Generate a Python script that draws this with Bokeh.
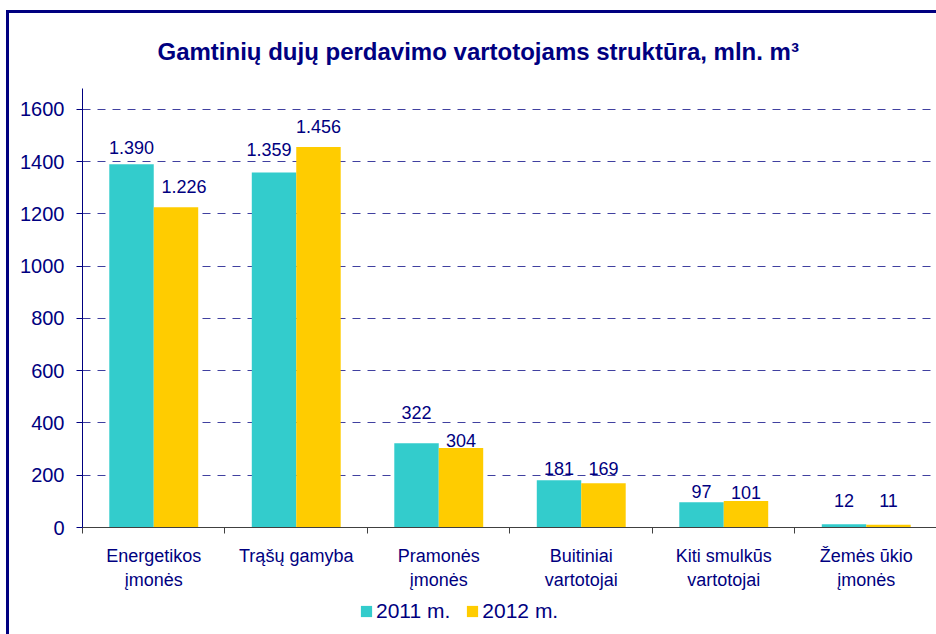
import numpy as np
from bokeh.plotting import figure
from bokeh.layouts import column
from bokeh.models import (ColumnDataSource, Range1d, FixedTicker, Legend, LegendItem)
from bokeh.core.properties import value
from bokeh.embed import file_html
from bokeh.resources import INLINE

# ---- data ----
categories = ["Energetikos\nįmonės", "Trąšų gamyba", "Pramonės\nįmonės",
              "Buitiniai\nvartotojai", "Kiti smulkūs\nvartotojai", "Žemės ūkio\nįmonės"]
values_2011 = [1390, 1359, 322, 181, 97, 12]
values_2012 = [1226, 1456, 304, 169, 101, 11]
series_names = ["2011 m.", "2012 m."]
y_ticks = [0, 200, 400, 600, 800, 1000, 1200, 1400, 1600]
title_text = "Gamtinių dujų perdavimo vartotojams struktūra, mln. m³"

# ---- styling ----
NAVY = "#000080"
TEAL = "#33CCCC"
YELLOW = "#FFCC00"
FONT = "Liberation Sans"
BAR_W = 0.312
# label nudges (screen px above the bar top) to mimic the original label placement
dy_2011 = [10, 16, 24, 5, 4, 17]
dy_2012 = [14, 14, 1, 8, 2, 17]
dx_2011 = [0, -5, 0, 0, 0, 0]
dx_2012 = [8, 0, 0, 0, 0, 0]
BASELINE_FIX = 7
BORDER_CSS = {"background": "linear-gradient(#000080,#000080) 6px 10px / 3px 700px no-repeat, "
                            "linear-gradient(#000080,#000080) 6px 10px / 940px 3px no-repeat, white"}
BORDER_CSS_LOW = {"background": "linear-gradient(#000080,#000080) 6px 0px / 3px 100px no-repeat, white"}


def fmt(v):
    return f"{v:,}".replace(",", ".")


n = len(categories)
centers = np.arange(n) + 0.5

src11 = ColumnDataSource(dict(x=centers - BAR_W / 2, top=values_2011,
                              lab=[fmt(v) for v in values_2011],
                              dy=[-(d + BASELINE_FIX) for d in dy_2011], dx=dx_2011))
src12 = ColumnDataSource(dict(x=centers + BAR_W / 2, top=values_2012,
                              lab=[fmt(v) for v in values_2012],
                              dy=[-(d + BASELINE_FIX) for d in dy_2012], dx=dx_2012))

p = figure(width=936, height=600, output_backend="svg", toolbar_location=None,
           x_range=Range1d(0, 5.993), y_range=Range1d(0, 1680),
           min_border_left=82, min_border_top=88, min_border_bottom=73,
           min_border_right=0)

p.title.text = title_text
p.title.text_font = FONT
p.title.text_font_size = "24px"
p.title.text_font_style = "bold"
p.title.text_color = NAVY
p.title.align = "left"
p.title.offset = 75
p.title.standoff = 48

p.outline_line_color = None
p.background_fill_color = "white"
p.border_fill_alpha = 0
p.styles = BORDER_CSS

r11 = p.vbar(x="x", top="top", width=BAR_W, source=src11, fill_color=TEAL, line_color=None)
r12 = p.vbar(x="x", top="top", width=BAR_W, source=src12, fill_color=YELLOW, line_color=None)

for src in (src11, src12):
    p.text(x="x", y="top", text="lab", source=src, x_offset="dx", y_offset="dy",
           text_align="center", text_baseline="alphabetic",
           text_font=value(FONT), text_font_size="18px", text_color=NAVY)

# x axis: labels at category centers, tick marks at boundaries (minor ticks)
xa = p.xaxis[0]
xa.ticker = FixedTicker(ticks=list(centers), minor_ticks=list(range(n + 1)))
xa.major_label_overrides = {float(c): lab for c, lab in zip(centers, categories)}
xa.major_tick_out = 0
xa.major_tick_in = 0
xa.minor_tick_out = 6
xa.minor_tick_in = 0
xa.minor_tick_line_color = "#404040"
xa.axis_line_color = "#404040"
xa.major_label_text_font = FONT
xa.major_label_text_font_size = "18px"
xa.major_label_text_color = NAVY
xa.major_label_standoff = 12

ya = p.yaxis[0]
ya.ticker = FixedTicker(ticks=y_ticks, minor_ticks=[])
ya.major_tick_out = 6
ya.major_tick_in = 0
ya.major_tick_line_color = NAVY
ya.axis_line_color = NAVY
ya.major_label_text_font = FONT
ya.major_label_text_font_size = "20px"
ya.major_label_text_color = NAVY
ya.major_label_standoff = 12

p.xgrid.grid_line_color = None
p.ygrid.ticker = FixedTicker(ticks=y_ticks[1:], minor_ticks=[])
p.ygrid.grid_line_color = NAVY
p.ygrid.grid_line_alpha = 0.75
p.ygrid.grid_line_dash = "8 7"
p.ygrid.grid_line_width = 1

# ---- legend strip under the chart ----
pl = figure(width=936, height=34, output_backend="svg", toolbar_location=None,
            x_range=Range1d(0, 1), y_range=Range1d(0, 1),
            min_border_left=0, min_border_right=0, min_border_top=0, min_border_bottom=0)
pl.axis.visible = False
pl.grid.visible = False
pl.outline_line_color = None
pl.background_fill_alpha = 0
pl.border_fill_alpha = 0
pl.styles = BORDER_CSS_LOW
# swatch renderers for the legend (kept outside the strip's visible range)
l11 = pl.vbar(x=[5], top=[5], width=BAR_W, fill_color=TEAL, line_color=None)
l12 = pl.vbar(x=[5], top=[5], width=BAR_W, fill_color=YELLOW, line_color=None)

legend = Legend(items=[LegendItem(label=series_names[0], renderers=[l11]),
                       LegendItem(label=series_names[1], renderers=[l12])],
                orientation="horizontal", location=(277, 11))
legend.label_text_font = FONT
legend.label_text_font_size = "21px"
legend.label_text_color = NAVY
legend.glyph_width = 14
legend.glyph_height = 14
legend.label_standoff = 3
legend.spacing = 15
legend.padding = 0
legend.margin = 0
legend.border_line_color = None
legend.background_fill_alpha = 0
pl.add_layout(legend)

layout = column(p, pl, spacing=0)
open("out.html", "w").write(file_html(layout, INLINE))
